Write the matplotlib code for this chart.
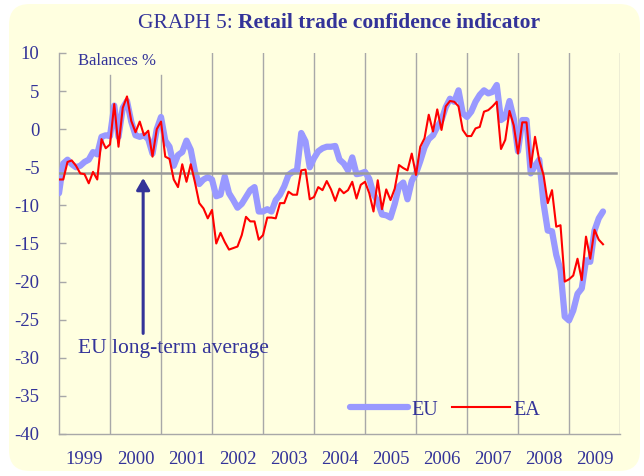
import numpy as np
import matplotlib
matplotlib.use("Agg")
import matplotlib.pyplot as plt
from matplotlib.patches import FancyBboxPatch
from matplotlib.lines import Line2D

plt.rcParams['font.family'] = ['Liberation Serif', 'DejaVu Serif']
plt.rcParams['axes.unicode_minus'] = False

# ---------------- data ----------------
start_year = 1999
years = list(range(1999, 2010))
year_labels = [str(y) for y in years]
y_ticks = list(range(-40, 11, 5))

eu = [-8.4, -4.5, -4.0, -4.6, -5.0, -4.8, -4.3, -4.0, -3.0, -3.3,
      -1.0, -0.8, -0.9, 3.1, -1.0, 2.8, 3.7, 1.0, -0.8, -1.0,
      -0.8, -1.3, -3.2, 0.0, 1.6, -1.5, -2.3, -4.8, -3.4, -3.0,
      -1.5, -2.7, -5.6, -7.2, -6.6, -6.3, -6.6, -8.8, -8.6, -6.2,
      -8.4, -9.3, -10.3, -9.8, -8.9, -8.0, -7.6, -10.8, -10.8, -10.5,
      -10.8, -9.3, -8.6, -7.5, -6.0, -5.6, -5.4, -0.5, -1.6, -5.0,
      -3.8, -2.9, -2.5, -2.3, -2.3, -2.2, -4.0, -4.5, -5.4, -3.7,
      -5.9, -5.8, -5.6, -6.5, -8.5, -9.5, -11.2, -11.3, -11.6, -9.8,
      -7.5, -7.0, -9.2, -6.8, -5.8, -4.2, -2.4, -1.3, -0.8, 0.3,
      1.2, 2.9, 4.0, 3.6, 5.1, 2.1, 1.6, 2.3, 3.6, 4.5,
      5.1, 4.7, 4.9, 5.8, 1.2, 1.6, 3.7, 1.4, -2.9, 1.2,
      1.2, -5.8, -4.8, -4.0, -9.7, -13.3, -13.4, -16.5, -18.5, -24.6,
      -25.1, -23.8, -21.6, -20.9, -17.2, -17.4, -13.3, -11.7, -10.8]

ea = [-6.6, -6.6, -4.3, -4.1, -4.8, -5.8, -5.9, -7.1, -5.6, -6.6,
      -1.3, -2.5, -2.0, 3.3, -2.3, 2.8, 4.3, 1.1, -0.4, 1.0,
      -0.8, -0.2, -3.6, 0.0, 1.0, -3.6, -3.9, -6.6, -7.6, -4.6,
      -6.9, -4.6, -7.0, -9.7, -10.4, -11.7, -10.6, -15.0, -13.6, -14.8,
      -15.8, -15.6, -15.4, -13.9, -11.5, -12.1, -12.1, -14.5, -13.9, -11.6,
      -11.6, -11.7, -9.7, -9.7, -8.2, -8.6, -8.6, -5.4, -5.3, -9.2,
      -8.9, -7.6, -8.0, -6.8, -7.9, -9.4, -7.8, -8.4, -8.0, -6.9,
      -9.1, -7.3, -6.9, -8.4, -10.8, -6.7, -10.5, -7.9, -9.3, -7.8,
      -4.7, -5.1, -5.4, -3.2, -6.0, -2.3, -1.2, 1.9, -0.3, 2.6,
      -0.1, 3.0, 3.7, 3.6, 3.0, -0.1, -0.9, -0.9, 0.1, 0.3,
      2.3, 2.5, 3.0, 3.6, -2.6, -1.4, 2.4, 0.5, -3.2, 0.9,
      0.9, -5.0, -1.0, -4.1, -6.0, -9.7, -8.0, -12.8, -12.6, -20.0,
      -19.7, -19.2, -17.0, -19.8, -14.1, -17.0, -13.2, -14.5, -15.1]

eu_long_term_avg = -5.75

# ---------------- style ----------------
NAVY = '#333399'
BG = '#FFFFE0'
GRID = '#A8A8A8'
EU_COL = '#9999FF'
EA_COL = '#FF0000'
W, H = 644, 476

fig = plt.figure(figsize=(W / 100, H / 100), dpi=100)
fig.patch.set_facecolor('white')
bg = FancyBboxPatch((9 / W, 5 / H), 631 / W, 467 / H,
                    boxstyle='round,pad=0,rounding_size=0.032',
                    mutation_aspect=W / H,
                    transform=fig.transFigure, facecolor=BG,
                    edgecolor='none', zorder=0)
fig.add_artist(bg)

ax = fig.add_axes([59 / W, (H - 434) / H, 561 / W, 381 / H])
ax.set_facecolor('none')
ax.set_xlim(1999, 2010)
ax.set_ylim(-40, 10)

for s in ('top', 'right'):
    ax.spines[s].set_visible(False)
for s in ('left', 'bottom'):
    ax.spines[s].set_color(GRID)
    ax.spines[s].set_linewidth(1.0)

# year separators
for yr in years[1:] + [2010]:
    top = 0.942 if yr in (2000, 2001) else 1.0
    ax.axvline(yr, ymin=0, ymax=top, color=GRID, lw=1.0, zorder=1)

x = start_year + np.arange(len(eu)) / 12.0

ax.plot(x, eu, color=EU_COL, lw=4.5, solid_capstyle='round',
        solid_joinstyle='round', zorder=3)
ax.axhline(eu_long_term_avg, xmin=0, xmax=0.993, color='#999999', lw=1.8, zorder=4)
ax.plot(x, ea, color=EA_COL, lw=1.5, zorder=5)

ax.set_yticks(y_ticks)
ax.set_yticklabels([str(v) for v in y_ticks])
ax.tick_params(axis='y', direction='in', length=5, width=1, color=GRID,
               pad=14, labelsize=13.5, labelcolor=NAVY)
ax.set_xticks([y + 0.5 for y in years])
ax.set_xticklabels(year_labels)
ax.tick_params(axis='x', length=0, pad=12, labelsize=13.5, labelcolor=NAVY)

ax.text(1999.37, 8.95, 'Balances %', fontsize=12, color=NAVY,
        va='center', ha='left', zorder=6)

arrow_x = 2000.65
ax.annotate('', xy=(arrow_x, -6.4), xytext=(arrow_x, -26.8),
            arrowprops=dict(arrowstyle='-|>,head_length=0.7,head_width=0.4',
                            lw=2.2, color=NAVY, shrinkA=0, shrinkB=0),
            zorder=6)
ax.text(1999.37, -28.74, 'EU long-term average', fontsize=15.5, color=NAVY,
        va='center', ha='left', zorder=6)

handles = [Line2D([], [], color=EU_COL, lw=4.5, solid_capstyle='round'),
           Line2D([], [], color=EA_COL, lw=1.5)]
ax.legend(handles, ['EU', 'EA'], ncol=2, frameon=False, loc='center',
          bbox_to_anchor=(0.688, 0.063), fontsize=14.5, handlelength=2.9,
          handletextpad=0.15, columnspacing=0.7, labelcolor=NAVY,
          borderpad=0.2)

# title with normal + bold parts
ty = 1 - 23 / H
t1 = fig.text(0, ty, 'GRAPH 5:', fontsize=15.5, color=NAVY, va='center', ha='left')
t2 = fig.text(0, ty, 'Retail trade confidence indicator', fontsize=15.5,
              fontweight='bold', color=NAVY, va='center', ha='left')
renderer = fig.canvas.get_renderer()
w1 = t1.get_window_extent(renderer).width
w2 = t2.get_window_extent(renderer).width
gap = 5
left = 339 - (w1 + gap + w2) / 2
t1.set_x(left / W)
t2.set_x((left + w1 + gap) / W)

fig.savefig('out.png', dpi=100, facecolor='white')
